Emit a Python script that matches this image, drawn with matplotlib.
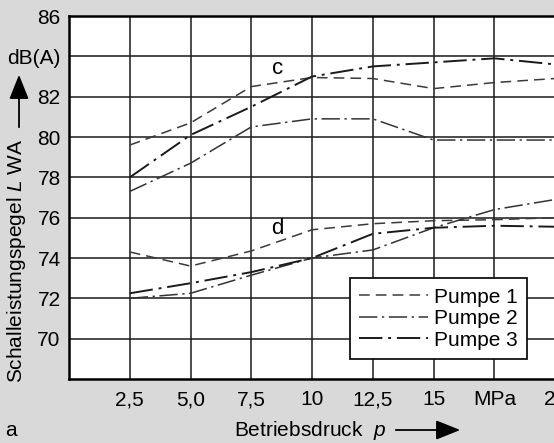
import matplotlib
matplotlib.use("Agg")
import matplotlib.pyplot as plt

plt.rcParams['font.family'] = ['Liberation Sans', 'DejaVu Sans']
plt.rcParams['mathtext.fontset'] = 'custom'
plt.rcParams['mathtext.rm'] = 'Liberation Sans'
plt.rcParams['mathtext.it'] = 'Liberation Sans:italic'

# --- data ---
druck = [2.5, 5.0, 7.5, 10.0, 12.5, 15.0, 17.5, 20.0]

# curve group c
c_pumpe1 = [79.6, 80.7, 82.5, 82.95, 82.9, 82.4, 82.7, 82.9]
c_pumpe2 = [77.3, 78.7, 80.5, 80.9, 80.9, 79.85, 79.85, 79.85]
c_pumpe3 = [78.0, 80.1, 81.5, 83.0, 83.5, 83.7, 83.9, 83.6]

# curve group d
d_pumpe1 = [74.3, 73.6, 74.35, 75.4, 75.7, 75.85, 75.9, 76.0]
d_pumpe2 = [72.0, 72.25, 73.15, 74.0, 74.4, 75.5, 76.4, 76.9]
d_pumpe3 = [72.25, 72.75, 73.3, 74.0, 75.2, 75.5, 75.6, 75.55]

xticks = [2.5, 5.0, 7.5, 10, 12.5, 15, 17.5, 20]
xticklabels = ["2,5", "5,0", "7,5", "10", "12,5", "15", "MPa", "20"]
yticks = [70, 72, 74, 76, 78, 80, 82, 84, 86]
yticklabels = ["70", "72", "74", "76", "78", "80", "82", "dB(A)", "86"]

fig = plt.figure(figsize=(5.54, 4.43), dpi=100)
fig.patch.set_facecolor('#d9d9d9')
ax = fig.add_axes([69/554, 64/443, 1 - 69/554 + 0.01, 363/443])
ax.set_facecolor('white')

dash1 = (0, (7, 4))
dash23 = (0, (12, 3, 1.5, 3))

ax.plot(druck, c_pumpe1, color='#3a3a3a', lw=1.1, linestyle=dash1)
ax.plot(druck, c_pumpe2, color='#333333', lw=1.1, linestyle=dash23)
ax.plot(druck, c_pumpe3, color='#1a1a1a', lw=1.4, linestyle=dash23)
ax.plot(druck, d_pumpe1, color='#3a3a3a', lw=1.1, linestyle=dash1, label='Pumpe 1')
ax.plot(druck, d_pumpe2, color='#333333', lw=1.1, linestyle=dash23, label='Pumpe 2')
ax.plot(druck, d_pumpe3, color='#1a1a1a', lw=1.4, linestyle=dash23, label='Pumpe 3')

ax.text(8.6, 83.4, "c", fontsize=16, ha='center', va='center')
ax.text(8.55, 75.45, "d", fontsize=16, ha='center', va='center')

ax.set_xlim(0, 20.18)
ax.set_ylim(68, 86)
ax.set_xticks(xticks)
ax.set_xticklabels(xticklabels)
ax.set_yticks(yticks)
ax.set_yticklabels(yticklabels)
ax.tick_params(length=0, labelsize=15, pad=6)
ax.tick_params(axis='x', pad=8)
ax.grid(True, color='#1a1a1a', lw=1.1)
for s in ['left', 'bottom', 'top']:
    ax.spines[s].set_linewidth(1.8)
ax.spines['right'].set_visible(False)

leg = ax.legend(loc='lower left', bbox_to_anchor=(0.572, 0.055), fontsize=15,
                frameon=True, fancybox=False, edgecolor='#111111',
                handlelength=3.3, handletextpad=0.3, borderpad=0.45,
                borderaxespad=0, labelspacing=0.12, framealpha=1)
leg.get_frame().set_linewidth(1.3)

# axis labels with arrows
fig.text(17/554, 1 - 261/443, r"Schalleistungspegel $\it{L}$ WA", rotation=90,
         fontsize=15, ha='center', va='center')
fig.add_artist(matplotlib.patches.FancyArrowPatch(
    (19/554, 1 - 130/443), (19/554, 1 - 72/443), transform=fig.transFigure,
    arrowstyle='-|>,head_length=1.0,head_width=0.4', mutation_scale=15,
    color='black', lw=1.3))

fig.text(310/554, 1 - 430/443, r"Betriebsdruck  $\it{p}$", fontsize=15,
         ha='center', va='center')
fig.add_artist(matplotlib.patches.FancyArrowPatch(
    (393/554, 1 - 430/443), (463/554, 1 - 430/443), transform=fig.transFigure,
    arrowstyle='-|>,head_length=1.0,head_width=0.4', mutation_scale=15,
    color='black', lw=1.3))

fig.text(11/554, 1 - 431/443, "a", fontsize=15, ha='center', va='center')

fig.savefig("out.png", dpi=100, facecolor=fig.get_facecolor())
